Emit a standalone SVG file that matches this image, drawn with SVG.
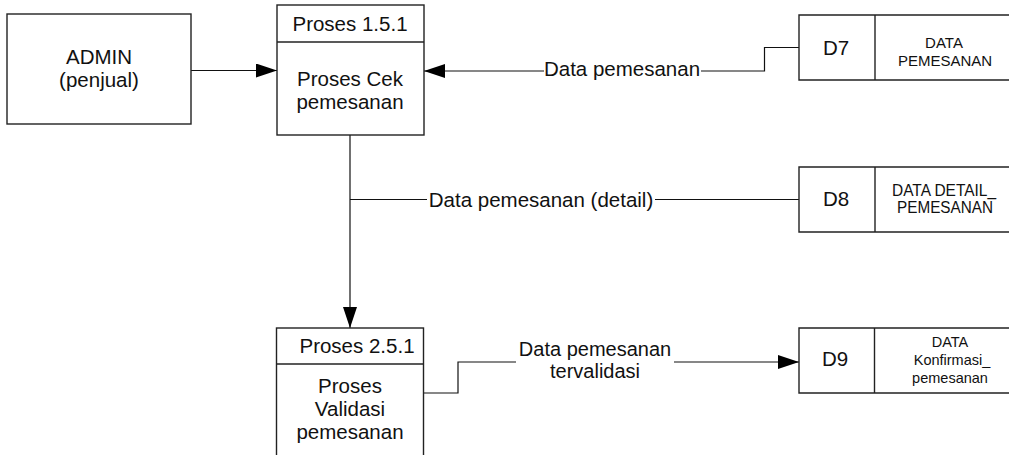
<svg xmlns="http://www.w3.org/2000/svg" width="1009" height="455" viewBox="0 0 1009 455">
<style>
.box{fill:#fff;stroke:#222;stroke-width:1.4}
.ln{fill:none;stroke:#222;stroke-width:1.4}
.cn{fill:none;stroke:#111;stroke-width:1.2}
.t{font-family:"Liberation Sans",Arial,sans-serif;font-size:20.5px;fill:#111;text-anchor:middle}
.s{font-family:"Liberation Sans",Arial,sans-serif;font-size:15px;fill:#111;text-anchor:middle}
</style>
<defs>
<marker id="ah" markerUnits="userSpaceOnUse" markerWidth="22" markerHeight="14" refX="21" refY="7" orient="auto">
<path d="M0,0 L21,7 L0,14 z" fill="#000"/>
</marker>
</defs>
<rect width="1009" height="455" fill="#fff"/>

<g id="connectors">
<path class="cn" d="M191,70.5 H277" marker-end="url(#ah)"/>
<path class="cn" d="M799,47.5 H764.5 V71 H701"/>
<path class="cn" d="M544,71 H424" marker-end="url(#ah)"/>
<path class="cn" d="M350,135 V328" marker-end="url(#ah)"/>
<path class="cn" d="M350,199.5 H427"/>
<path class="cn" d="M655,199.5 H799"/>
<path class="cn" d="M423,393 H458 V362 H516"/>
<path class="cn" d="M674,362 H799" marker-end="url(#ah)"/>
<text class="t" x="622" y="76">Data pemesanan</text>
<text class="t" x="541" y="207">Data pemesanan (detail)</text>
<text class="t" x="595" y="356" style="font-size:20px">Data pemesanan</text>
<text class="t" x="595" y="378" style="font-size:20px">tervalidasi</text>
</g>

<g id="admin">
<rect class="box" x="7" y="14" width="184" height="110"/>
<text class="t" x="99" y="64">ADMIN</text>
<text class="t" x="99" y="87">(penjual)</text>
</g>

<g id="proses151">
<rect class="box" x="277" y="5" width="147" height="130"/>
<line class="ln" x1="277" y1="42" x2="424" y2="42"/>
<text class="t" x="350" y="31">Proses 1.5.1</text>
<text class="t" x="350" y="86">Proses Cek</text>
<text class="t" x="350" y="109">pemesanan</text>
</g>

<g id="proses251">
<rect class="box" x="276.5" y="328" width="147" height="140"/>
<line class="ln" x1="276.5" y1="364" x2="423.5" y2="364"/>
<text class="t" x="357" y="353">Proses 2.5.1</text>
<text class="t" x="350" y="393">Proses</text>
<text class="t" x="350" y="416">Validasi</text>
<text class="t" x="350" y="439">pemesanan</text>
</g>

<g id="d7">
<path class="ln" d="M1010,15 H799 V80 H1010"/>
<line class="ln" x1="875" y1="15" x2="875" y2="80"/>
<text class="t" x="836" y="55">D7</text>
<text class="s" x="944" y="48">DATA</text>
<text class="s" x="945" y="66">PEMESANAN</text>
</g>

<g id="d8">
<path class="ln" d="M1010,167 H799 V232 H1010"/>
<line class="ln" x1="875" y1="167" x2="875" y2="232"/>
<text class="t" x="836" y="206">D8</text>
<text class="s" x="944" y="196" style="font-size:16px" textLength="104" lengthAdjust="spacingAndGlyphs">DATA DETAIL_</text>
<text class="s" x="945" y="213" style="font-size:16px" textLength="96" lengthAdjust="spacingAndGlyphs">PEMESANAN</text>
</g>

<g id="d9">
<path class="ln" d="M1010,328 H799 V393 H1010"/>
<line class="ln" x1="874.5" y1="328" x2="874.5" y2="393"/>
<text class="t" x="835" y="366">D9</text>
<text class="s" x="950" y="347" style="font-size:14.5px">DATA</text>
<text class="s" x="952" y="365" style="font-size:14.5px">Konfirmasi_</text>
<text class="s" x="950" y="383" style="font-size:14.5px">pemesanan</text>
</g>
</svg>
